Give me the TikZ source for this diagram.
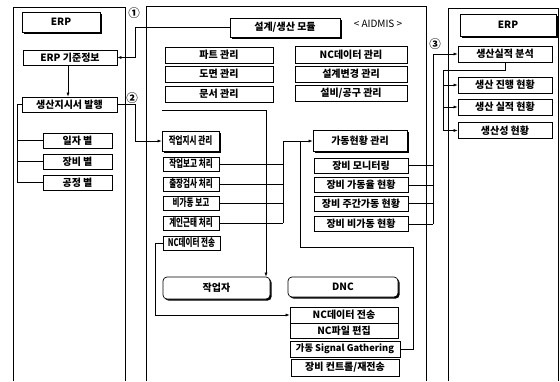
\documentclass[tikz,border=0pt]{standalone}
\usepackage{fontspec}
\setmainfont{Noto Sans CJK KR}
\newfontfamily\cnfont{Noto Sans CJK KR}[FakeStretch=0.72]
\usetikzlibrary{shadows,arrows.meta}
\tikzset{
 box/.style={draw, line width=0.7pt, fill=white, inner sep=0pt, font=\fontsize{10}{11}\selectfont\bfseries},
 sbox/.style={box, drop shadow={shadow xshift=1.6pt, shadow yshift=-1.6pt, fill=black, opacity=1}},
 nbox/.style={box, font=\cnfont\fontsize{10.5}{11}\selectfont\bfseries},
 panel/.style={line width=0.9pt},
 conn/.style={line width=0.6pt},
 arr/.style={conn, -{Latex[length=4pt,width=3pt]}},
 lab/.style={font=\fontsize{10}{11}\selectfont, inner sep=0pt},
 num/.style={font=\fontsize{11.5}{12}\selectfont\bfseries, inner sep=0pt},
}
\begin{document}
\begin{tikzpicture}[x=1pt,y=-1pt]
\useasboundingbox (0,0) rectangle (560,381);
% panels
\draw[panel] (13,381) -- (13,7) -- (125,7) -- (125,381);
\draw[panel] (146,381) -- (146,6) -- (426,6) -- (426,381);
\draw[panel] (448,381) -- (448,8) -- (558,8) -- (558,381);

% left panel
\node[sbox, minimum width=78pt, minimum height=20pt] (erpL) at (61,22) {ERP};
\node[box, minimum width=94pt, minimum height=15pt] (kijun) at (70,57.5) {ERP 기준정보};
\node[box, minimum width=95pt, minimum height=15pt] (balhaeng) at (69.5,104.5) {생산지시서 발행};
\node[box, minimum width=69pt, minimum height=15pt] (ilja) at (77.5,140.5) {일자 별};
\node[box, minimum width=69pt, minimum height=15pt] (jangbi) at (77.5,161.5) {장비 별};
\node[box, minimum width=69pt, minimum height=15pt] (gongjeong) at (77.5,182.5) {공정 별};

\node[num] (n1) at (134,13) {①};
\node[num] (n2) at (132,98) {②};
\node[num] (n3) at (435,44) {③};

% middle panel
\node[sbox, minimum width=110pt, minimum height=19pt] (module) at (285,27.5) {설계/생산 모듈};
\node[lab] (aidmis) at (378,24) {< AIDMIS >};
\node[box, minimum width=108pt, minimum height=16pt] (part) at (219,55) {파트 관리};
\node[box, minimum width=108pt, minimum height=16pt] (domyeon) at (219,74) {도면 관리};
\node[box, minimum width=108pt, minimum height=16pt] (munseo) at (219,94) {문서 관리};
\node[box, minimum width=112pt, minimum height=17pt] (ncmgmt) at (351,54.5) {NC데이터 관리};
\node[box, minimum width=112pt, minimum height=16pt] (seolgye) at (351,74) {설계변경 관리};
\node[box, minimum width=112pt, minimum height=16pt] (seolbi) at (351,93.5) {설비/공구 관리};

\node[sbox, font=\cnfont\fontsize{10.5}{11}\selectfont\bfseries, minimum width=57pt, minimum height=20pt] (jisi) at (190.5,141) {작업지시 관리};
\node[nbox, minimum width=56pt, minimum height=14pt] (bogo) at (191,164) {작업보고 처리};
\node[nbox, minimum width=56pt, minimum height=14pt] (chuljang) at (191,184) {출장검사 처리};
\node[nbox, minimum width=56pt, minimum height=14pt] (bigadong) at (191,203) {비가동 보고};
\node[nbox, minimum width=56pt, minimum height=14pt] (geunte) at (191,223) {계인근태 처리};
\node[nbox, minimum width=57pt, minimum height=14pt] (ncsend) at (191.5,243) {NC데이터 전송};

\node[sbox, minimum width=94pt, minimum height=21pt] (gadong) at (360,141) {가동현황 관리};
\node[box, minimum width=94pt, minimum height=15pt] (mon) at (361,165.5) {장비 모니터링};
\node[box, minimum width=94pt, minimum height=15pt] (gadongyul) at (361,185) {장비 가동율 현황};
\node[box, minimum width=94pt, minimum height=15pt] (jugan) at (361,203.5) {장비 주간가동 현황};
\node[box, minimum width=94pt, minimum height=15pt] (bigadongH) at (361,224) {장비 비가동 현황};

\node[sbox, rounded corners=4pt, minimum width=107pt, minimum height=22pt] (worker) at (216.5,288) {작업자};
\node[sbox, rounded corners=4pt, minimum width=110pt, minimum height=20pt] (dnc) at (343,287) {DNC};
\node[box, minimum width=108pt, minimum height=16pt] (dncsend) at (344,315) {NC데이터 전송};
\node[box, minimum width=108pt, minimum height=15pt] (ncedit) at (344,331) {NC파일 편집};
\node[box, font=\fontsize{9.3}{10}\selectfont\bfseries, minimum width=110pt, minimum height=16pt] (signal) at (345,349) {가동 Signal Gathering};
\node[box, minimum width=108pt, minimum height=17pt] (control) at (345,367.5) {장비 컨트롤/재전송};

% right panel
\node[sbox, minimum width=96pt, minimum height=22pt] (erpR) at (508,25) {ERP};
\node[box, minimum width=94pt, minimum height=16pt] (bunseok) at (505,54) {생산실적 분석};
\node[box, minimum width=94pt, minimum height=16pt] (jinhaeng) at (505,85) {생산 진행 현황};
\node[box, minimum width=94pt, minimum height=16pt] (silj) at (505,107) {생산 실적 현황};
\node[box, minimum width=94pt, minimum height=16pt] (saengsan) at (505,130.5) {생산성 현황};

% connectors left
\draw[arr] (kijun.south -| 68,0) -- (balhaeng.north -| 68,0);
\coordinate (t1) at (17,104.5);
\draw[conn] (balhaeng.west) -- (t1) -- (t1 |- gongjeong.west) -- (gongjeong.west);
\draw[conn] (t1 |- ilja.west) -- (ilja.west);
\draw[conn] (t1 |- jangbi.west) -- (jangbi.west);

\coordinate (c1) at (135,0);
\draw[arr] (module.west) -- (c1 |- module.west) -- (c1 |- kijun.east) -- (kijun.east);
\draw[arr] (balhaeng.east) -- (c1 |- balhaeng.east) -- (c1 |- jisi.west) -- (jisi.west);

% middle connectors
\coordinate (g1) at (162,110);
\coordinate (g2) at (266,110);
\draw[arr] (g1) -- (g2) -- (g2 |- worker.north);

\coordinate (v1) at (283,0);
\draw[conn] (bogo.east) -- (v1 |- bogo.east);
\draw[conn] (chuljang.east) -- (v1 |- chuljang.east);
\draw[conn] (bigadong.east) -- (v1 |- bigadong.east);
\draw[conn] (geunte.east) -- (v1 |- geunte.east);
\draw[arr] (v1 |- geunte.east) -- (v1 |- gadong.west) -- (gadong.west);

\coordinate (v2) at (413,247);
\coordinate (v3) at (300,247);
\draw[conn] (signal.east) -- (v2 |- signal.east) -- (v2) -- (v3) -- (v3 |- gadong.west);

\coordinate (v6) at (155,0);
\draw[arr] (ncsend.west) -- (v6 |- ncsend.west) -- (v6 |- dncsend.west) -- (dncsend.west);

% right connectors
\coordinate (v4) at (433,0);
\draw[conn] (mon.east) -- (v4 |- mon.east);
\draw[conn] (gadongyul.east) -- (v4 |- gadongyul.east);
\draw[conn] (jugan.east) -- (v4 |- jugan.east);
\draw[conn] (bigadongH.east) -- (v4 |- bigadongH.east);
\draw[arr] (v4 |- bigadongH.east) -- (v4 |- bunseok.west) -- (bunseok.west);

\coordinate (v5) at (443,70);
\draw[conn] (bunseok.south) -- (bunseok.south |- v5) -- (v5) -- (v5 |- saengsan.west);
\draw[arr] (v5 |- jinhaeng.west) -- (jinhaeng.west);
\draw[arr] (v5 |- silj.west) -- (silj.west);
\draw[arr] (v5 |- saengsan.west) -- (saengsan.west);
\end{tikzpicture}
\end{document}
